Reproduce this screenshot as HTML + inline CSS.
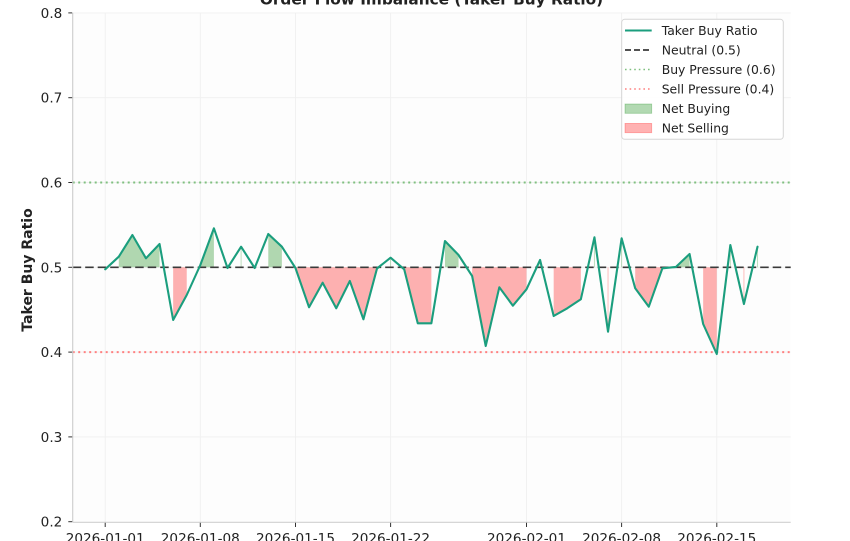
<!DOCTYPE html>
<html>
<head>
<meta charset="utf-8">
<style>
html,body{margin:0;padding:0;background:#fff;}
svg{display:block;}
text{font-family:"DejaVu Sans","Liberation Sans",sans-serif;fill:#222;}
</style>
</head>
<body>
<svg width="850" height="541" viewBox="0 0 850 541" xmlns="http://www.w3.org/2000/svg">
  <rect x="0" y="0" width="850" height="541" fill="#ffffff"/>
  <!-- plot background -->
  <rect x="72.7" y="12.9" width="718" height="509.4" fill="#fdfdfd"/>
  <!-- grid -->
  <g stroke="#f0f0f0" stroke-width="0.9">
    <line x1="72.7" x2="790.7" y1="12.9" y2="12.9"/>
    <line x1="72.7" x2="790.7" y1="97.7" y2="97.7"/>
    <line x1="72.7" x2="790.7" y1="182.5" y2="182.5"/>
    <line x1="72.7" x2="790.7" y1="267.3" y2="267.3"/>
    <line x1="72.7" x2="790.7" y1="352.1" y2="352.1"/>
    <line x1="72.7" x2="790.7" y1="436.9" y2="436.9"/>
    <line x1="105.2" x2="105.2" y1="12.9" y2="522.3"/>
    <line x1="200.3" x2="200.3" y1="12.9" y2="522.3"/>
    <line x1="295.5" x2="295.5" y1="12.9" y2="522.3"/>
    <line x1="390.6" x2="390.6" y1="12.9" y2="522.3"/>
    <line x1="526.5" x2="526.5" y1="12.9" y2="522.3"/>
    <line x1="621.6" x2="621.6" y1="12.9" y2="522.3"/>
    <line x1="716.8" x2="716.8" y1="12.9" y2="522.3"/>
  </g>

  <!-- green fills -->
  <g fill="rgba(0,128,0,0.3)">
    <path d="M118.79,267.3 L118.79,256.7 L132.38,235 L145.97,258.3 L159.56,244 L159.56,267.3Z"/>
    <path d="M200.33,267.3 L200.33,265 L213.92,228.3 L213.92,267.3Z"/>
    <path d="M268.28,267.3 L268.28,234 L281.87,246.7 L281.87,267.3Z"/>
    <path d="M444.95,267.3 L444.95,241 L458.54,255 L458.54,267.3Z"/>
    <path d="M675.98,267.3 L675.98,266.9 L689.57,254 L689.57,267.3Z"/>
  </g>
  <g stroke="rgba(0,128,0,0.25)" stroke-width="1">
    <line x1="241.1" x2="241.1" y1="246.7" y2="267.3"/>
    <line x1="390.59" x2="390.59" y1="257.7" y2="267.3"/>
    <line x1="540.08" x2="540.08" y1="260" y2="267.3"/>
    <line x1="594.44" x2="594.44" y1="237.3" y2="267.3"/>
    <line x1="621.62" x2="621.62" y1="238.3" y2="267.3"/>
    <line x1="730.34" x2="730.34" y1="245" y2="267.3"/>
    <line x1="757.52" x2="757.52" y1="246.7" y2="267.3"/>
  </g>
  <!-- red fills -->
  <g fill="rgba(255,0,0,0.3)">
    <path d="M173.15,267.3 L173.15,320 L186.74,295 L186.74,267.3Z"/>
    <path d="M295.46,267.3 L295.46,268 L309.05,307.3 L322.64,282.7 L336.23,308.3 L349.82,281 L363.41,319.3 L377,268.5 L377,267.3Z"/>
    <path d="M404.18,267.3 L404.18,269.3 L417.77,323.3 L431.36,323.3 L431.36,267.3Z"/>
    <path d="M472.13,267.3 L472.13,276 L485.72,346 L499.31,287.3 L512.9,305.7 L526.49,289.3 L526.49,267.3Z"/>
    <path d="M553.67,267.3 L553.67,316 L567.26,308.3 L580.85,299.3 L580.85,267.3Z"/>
    <path d="M635.21,267.3 L635.21,288.3 L648.8,306.7 L662.39,268.3 L662.39,267.3Z"/>
    <path d="M703.16,267.3 L703.16,324 L716.75,354 L716.75,267.3Z"/>
  </g>
  <g stroke="rgba(255,0,0,0.25)" stroke-width="1">
    <line x1="608.03" x2="608.03" y1="267.3" y2="331.7"/>
    <line x1="743.93" x2="743.93" y1="267.3" y2="304"/>
  </g>

  <!-- reference lines -->
  <line x1="72.7" x2="790.7" y1="182.5" y2="182.5" stroke="#80c080" stroke-width="2" stroke-dasharray="2,3.5"/>
  <line x1="72.7" x2="790.7" y1="352.1" y2="352.1" stroke="#ff8080" stroke-width="2" stroke-dasharray="2,3.5"/>
  <line x1="72.7" x2="790.7" y1="267.3" y2="267.3" stroke="#3a3a3a" stroke-width="1.7" stroke-dasharray="8.5,4"/>

  <!-- main line -->
  <polyline fill="none" stroke="#1b9e7e" stroke-width="2.1" stroke-linejoin="round" stroke-linecap="round"
    points="105.2,269.3 118.79,256.7 132.38,235 145.97,258.3 159.56,244 173.15,320 186.74,295 200.33,265 213.92,228.3 227.51,268 241.1,246.7 254.69,268 268.28,234 281.87,246.7 295.46,268 309.05,307.3 322.64,282.7 336.23,308.3 349.82,281 363.41,319.3 377,268.5 390.59,257.7 404.18,269.3 417.77,323.3 431.36,323.3 444.95,241 458.54,255 472.13,276 485.72,346 499.31,287.3 512.9,305.7 526.49,289.3 540.08,260 553.67,316 567.26,308.3 580.85,299.3 594.44,237.3 608.03,331.7 621.62,238.3 635.21,288.3 648.8,306.7 662.39,268.3 675.98,266.9 689.57,254 703.16,324 716.75,354 730.34,245 743.93,304 757.52,246.7"/>

  <!-- spines -->
  <line x1="72.7" x2="72.7" y1="12.9" y2="522.3" stroke="#d0d0d0" stroke-width="1.2"/>
  <line x1="72.7" x2="790.7" y1="522.3" y2="522.3" stroke="#d0d0d0" stroke-width="1.2"/>

  <!-- ticks -->
  <g stroke="#333" stroke-width="1">
    <line x1="68.3" x2="72.2" y1="12.9" y2="12.9"/>
    <line x1="68.3" x2="72.2" y1="97.7" y2="97.7"/>
    <line x1="68.3" x2="72.2" y1="182.5" y2="182.5"/>
    <line x1="68.3" x2="72.2" y1="267.3" y2="267.3"/>
    <line x1="68.3" x2="72.2" y1="352.1" y2="352.1"/>
    <line x1="68.3" x2="72.2" y1="436.9" y2="436.9"/>
    <line x1="68.3" x2="72.2" y1="521.7" y2="521.7"/>
    <line x1="105.2" x2="105.2" y1="522.8" y2="527"/>
    <line x1="200.3" x2="200.3" y1="522.8" y2="527"/>
    <line x1="295.5" x2="295.5" y1="522.8" y2="527"/>
    <line x1="390.6" x2="390.6" y1="522.8" y2="527"/>
    <line x1="526.5" x2="526.5" y1="522.8" y2="527"/>
    <line x1="621.6" x2="621.6" y1="522.8" y2="527"/>
    <line x1="716.8" x2="716.8" y1="522.8" y2="527"/>
  </g>
  <g font-size="13.6" text-anchor="end">
    <text x="62.3" y="17.9">0.8</text>
    <text x="62.3" y="102.7">0.7</text>
    <text x="62.3" y="187.5">0.6</text>
    <text x="62.3" y="272.3">0.5</text>
    <text x="62.3" y="357.1">0.4</text>
    <text x="62.3" y="441.9">0.3</text>
    <text x="62.3" y="526.7">0.2</text>
  </g>
  <g font-size="13.6" text-anchor="middle">
    <text x="105.2" y="543.2">2026-01-01</text>
    <text x="200.3" y="543.2">2026-01-08</text>
    <text x="295.5" y="543.2">2026-01-15</text>
    <text x="390.6" y="543.2">2026-01-22</text>
    <text x="526.5" y="543.2">2026-02-01</text>
    <text x="621.6" y="543.2">2026-02-08</text>
    <text x="716.8" y="543.2">2026-02-15</text>
  </g>

  <!-- y label -->
  <text transform="translate(31.8,270) rotate(-90)" font-size="14" font-weight="bold" text-anchor="middle" fill="#111">Taker Buy Ratio</text>

  <!-- title -->
  <text x="431.5" y="4.5" font-size="15.3" font-weight="bold" text-anchor="middle" fill="#111">Order Flow Imbalance (Taker Buy Ratio)</text>

  <!-- legend -->
  <rect x="621.7" y="19.3" width="161.6" height="120" rx="3" ry="3" fill="#ffffff" fill-opacity="0.9" stroke="#d6d6d6" stroke-width="1"/>
  <line x1="625" x2="651.7" y1="30.5" y2="30.5" stroke="#1b9e7e" stroke-width="2.1"/>
  <line x1="625" x2="651.7" y1="50" y2="50" stroke="#3a3a3a" stroke-width="1.7" stroke-dasharray="6,3"/>
  <line x1="625" x2="651.7" y1="69.5" y2="69.5" stroke="#80c080" stroke-width="1.6" stroke-dasharray="1.6,3"/>
  <line x1="625" x2="651.7" y1="89" y2="89" stroke="#ff8080" stroke-width="1.6" stroke-dasharray="1.6,3"/>
  <rect x="625" y="104" width="26.7" height="9.3" fill="rgba(0,128,0,0.3)" stroke="rgba(0,128,0,0.3)" stroke-width="0.8"/>
  <rect x="625" y="123.4" width="26.7" height="9.3" fill="rgba(255,0,0,0.3)" stroke="rgba(255,0,0,0.3)" stroke-width="0.8"/>
  <g font-size="12.4">
    <text x="661.7" y="35">Taker Buy Ratio</text>
    <text x="661.7" y="54.5">Neutral (0.5)</text>
    <text x="661.7" y="74">Buy Pressure (0.6)</text>
    <text x="661.7" y="93.5">Sell Pressure (0.4)</text>
    <text x="661.7" y="113">Net Buying</text>
    <text x="661.7" y="132.5">Net Selling</text>
  </g>
</svg>
</body>
</html>
